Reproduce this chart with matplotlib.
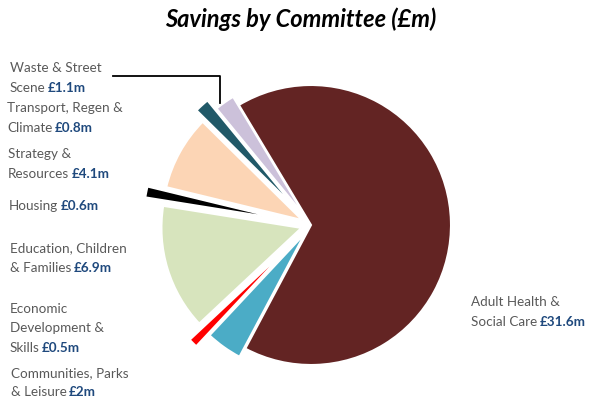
import matplotlib
matplotlib.use("Agg")
import matplotlib.pyplot as plt

# data (savings in £m)
committees = ["Adult Health &\nSocial Care", "Communities, Parks\n& Leisure",
              "Economic\nDevelopment &\nSkills", "Education, Children\n& Families",
              "Housing", "Strategy &\nResources", "Transport, Regen &\nClimate",
              "Waste & Street\nScene"]
savings = [31.6, 2.0, 0.5, 6.9, 0.6, 4.1, 0.8, 1.1]
value_labels = ["£31.6m", "£2m", "£0.5m", "£6.9m", "£0.6m", "£4.1m", "£0.8m", "£1.1m"]
colors = ["#632423", "#4BACC6", "#FF0000", "#D7E4BD", "#000000", "#FCD5B5", "#215968", "#CCC1DA"]
# explode offsets in pixels (pie drawn in pixel-sized data units)
explode = [0, 10, 27, 10, 28, 10, 22, 10]

plt.rcParams['font.family'] = ['Lato', 'DejaVu Sans']
GREY = "#595959"
BLUE = "#1F497D"

fig = plt.figure(figsize=(5.95, 4.0), dpi=100)
ax = fig.add_axes([0, 0, 1, 1])

ax.pie(savings, colors=colors, explode=explode, startangle=121, counterclock=False,
       center=(311, 175), radius=140,
       wedgeprops=dict(edgecolor="white", linewidth=1.5))
ax.set_xlim(0, 595)
ax.set_ylim(0, 400)
ax.set_aspect('equal')
ax.axis('off')

# label anchor: left x and baseline of first line (pixels from top)
label_pos = [(471, 306), (11, 377), (10, 313), (10, 252), (9, 210), (8, 158), (7, 112), (10, 72)]
line_h = 19.5
fs = 9.7
for name, val, (lx, ly) in zip(committees, value_labels, label_pos):
    lines = name.split("\n")
    t = None
    for i, ln in enumerate(lines):
        t = ax.text(lx, 400 - (ly + i * line_h), ln, ha='left', va='baseline',
                    fontsize=fs, color=GREY)
    ax.annotate(val, xy=(1, 0), xycoords=t, xytext=(1.5, 0), textcoords='offset points',
                ha='left', va='bottom', fontsize=fs, color=BLUE, fontweight='bold')

# leader line for Waste & Street Scene
ax.plot([113, 220, 220], [400 - 76, 400 - 76, 400 - 103], color="black", lw=1.3)

fig.text(0.505, 1 - 19 / 400, "Savings by Committee (£m)", ha='center', va='center',
         fontsize=17, fontweight='bold', fontstyle='italic', color="black")

fig.savefig("out.png", dpi=100)
